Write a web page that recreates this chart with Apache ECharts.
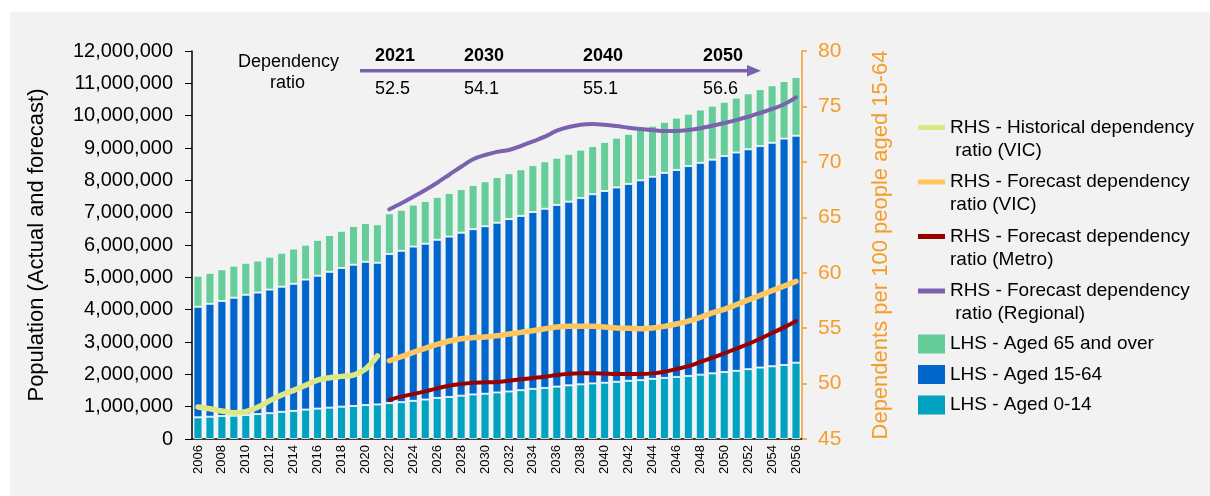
<!DOCTYPE html>
<html>
<head>
<meta charset="utf-8">
<script src="https://cdn.jsdelivr.net/npm/echarts@6/dist/echarts.min.js"></script>
<style>
html,body{margin:0;padding:0;background:#f2f2f2;overflow:hidden;}
#topband{position:absolute;left:0;top:0;width:100%;height:12px;background:#fff;}
#leftband{position:absolute;left:0;top:0;width:10px;height:100%;background:#fff;}
#chart{position:absolute;left:10px;top:12px;width:1200px;height:484px;background:#f2f2f2;}
</style>
</head>
<body>
<div id="topband"></div>
<div id="leftband"></div>
<div id="chart"></div>
<script>
var years = ['2006','2007','2008','2009','2010','2011','2012','2013','2014','2015','2016','2017','2018','2019','2020','2021',
  '2022','2023','2024','2025','2026','2027','2028','2029','2030','2031','2032','2033','2034','2035','2036','2037','2038','2039',
  '2040','2041','2042','2043','2044','2045','2046','2047','2048','2049','2050','2051','2052','2053','2054','2055','2056'];

// population by age group, thousands
var aged0to14 = [670,690,710,720,740,770,800,840,870,910,940,970,1000,1020,1050,1070,
  1110,1140,1180,1220,1270,1300,1340,1380,1400,1440,1470,1510,1550,1580,1620,1660,1690,1720,
  1740,1770,1800,1820,1860,1890,1920,1950,1990,2030,2070,2110,2160,2210,2250,2290,2360];
var aged15to64 = [3420,3490,3560,3650,3720,3760,3820,3870,3930,4020,4110,4200,4290,4370,4430,4380,
  4610,4680,4770,4820,4890,4960,5040,5110,5180,5250,5330,5390,5470,5540,5620,5680,5760,5850,
  5930,6010,6090,6180,6250,6340,6400,6490,6550,6610,6680,6750,6800,6850,6910,7000,7020];
var aged65plus = [960,960,980,990,990,990,1020,1050,1090,1080,1110,1140,1150,1200,1200,1190,
  1260,1270,1300,1320,1330,1350,1350,1370,1390,1410,1420,1440,1450,1470,1460,1480,1500,1490,
  1520,1540,1550,1580,1580,1580,1620,1620,1650,1670,1680,1700,1730,1760,1780,1780,1820];

// dependency ratio, 2006-2021 actual
var histVic = [47.89,47.73,47.53,47.37,47.46,47.86,48.46,48.97,49.39,49.84,50.32,50.53,50.65,50.77,51.31,52.49];
// dependency ratio, 2022-2056 forecast
var fcVic = [52.06,52.43,52.82,53.18,53.54,53.84,54.05,54.15,54.2,54.32,54.47,54.62,54.77,54.95,55.10,55.16,55.16,55.16,
  55.1,55.01,54.98,54.95,55.01,55.16,55.37,55.64,55.98,56.37,56.7,57.11,57.54,57.96,58.38,58.80,59.22];
var fcMetro = [48.52,48.82,49.06,49.30,49.57,49.81,49.96,50.08,50.11,50.14,50.26,50.38,50.50,50.62,50.77,50.89,50.92,50.92,
  50.89,50.86,50.86,50.86,50.92,51.07,51.31,51.58,51.95,52.33,52.73,53.15,53.57,54.05,54.56,55.07,55.64];
var fcRegional = [65.72,66.26,66.86,67.46,68.12,68.84,69.56,70.23,70.62,70.9,71.07,71.43,71.85,72.27,72.81,73.14,73.35,73.41,
  73.35,73.23,73.08,72.96,72.87,72.78,72.78,72.87,73.03,73.26,73.50,73.77,74.07,74.41,74.77,75.19,75.82];

var keyYears = ['2021','2030','2040','2050'];
var keyRatios = ['52.5','54.1','55.1','56.6'];

var names = {
  hist:'RHS - Historical dependency\n ratio (VIC)',
  vic:'RHS - Forecast dependency\nratio (VIC)',
  metro:'RHS - Forecast dependency\nratio (Metro)',
  reg:'RHS - Forecast dependency\n ratio (Regional)',
  a65:'LHS - Aged 65 and over',
  a15:'LHS - Aged 15-64',
  a0:'LHS - Aged 0-14'
};

function thousands(arr){
  return arr.map(function(v){return v*1000;});
}
function nulls(n){
  var a=[];for(var i=0;i<n;i++){a.push(null);}return a;
}
var histFull = histVic.concat(nulls(years.length-histVic.length));
var pad = nulls(years.length-fcVic.length);

var orange = '#F59D2A';
var font = 'Arial, "Liberation Sans", sans-serif';

var myChart = echarts.init(document.getElementById('chart'));

var barStyle = function(c){
  return {color:c,borderColor:'rgba(255,255,255,0.75)',borderWidth:1};
};
var lineSeries = function(name,data,c,w){
  return {
    name:name,type:'line',yAxisIndex:1,data:data,smooth:0.35,symbol:'none',z:5,
    lineStyle:{color:c,width:w,cap:'round',join:'round'},
    itemStyle:{color:c}
  };
};

// year labels + ratios above the arrow
var annot = [];
var annotX = [365,454,573,693];
keyYears.forEach(function(y,i){
  annot.push({type:'text',left:annotX[i],top:35,style:{text:y,font:'bold 18px '+font,fill:'#000'}});
  annot.push({type:'text',left:annotX[i],top:68,style:{text:keyRatios[i],font:'18px '+font,fill:'#000'}});
});

var lineIcon = 'path://M0,0 M0,9 L27,9 L27,14 L0,14 Z M27,46';

option = {
  textStyle:{fontFamily:font},
  animation:false,
  grid:{left:182,top:39,width:610,height:388,containLabel:false},
  legend:[
    {
      orient:'vertical',left:903,top:99,itemGap:8.5,
      itemWidth:27,itemHeight:46,symbolKeepAspect:false,
      icon:lineIcon,
      textStyle:{fontSize:19,color:'#000',lineHeight:23,fontFamily:font},
      itemStyle:{borderWidth:0},
      data:[names.hist,names.vic,names.metro,names.reg]
    },
    {
      orient:'vertical',left:903,top:315.5,itemGap:7.5,
      itemWidth:27,itemHeight:19,icon:'rect',
      textStyle:{fontSize:19,color:'#000',lineHeight:23,fontFamily:font},
      itemStyle:{borderWidth:0},
      data:[names.a65,names.a15,names.a0]
    }
  ],
  xAxis:{
    type:'category',data:years,boundaryGap:true,
    axisLine:{lineStyle:{color:'#000',width:1.5}},
    axisTick:{show:false},
    axisLabel:{rotate:90,interval:1,fontSize:13,color:'#000',margin:6}
  },
  yAxis:[
    {
      type:'value',min:0,max:12000000,interval:1000000,
      name:'Population (Actual and forecast)',nameLocation:'middle',nameGap:144,
      nameTextStyle:{fontSize:22,color:'#000'},
      axisLine:{show:true,lineStyle:{color:'#000',width:1.5}},
      axisTick:{show:true,length:7,lineStyle:{color:'#000'}},
      axisLabel:{fontSize:20,color:'#000',margin:19,formatter:function(v){return v.toLocaleString('en-US');}},
      splitLine:{show:false}
    },
    {
      type:'value',min:45,max:80,interval:5,position:'right',
      name:'Dependents per 100 people aged 15-64',nameLocation:'middle',nameGap:68,
      nameTextStyle:{fontSize:22,color:orange},
      axisLine:{show:true,lineStyle:{color:orange,width:1.5}},
      axisTick:{show:true,length:5,lineStyle:{color:orange,width:1.5}},
      axisLabel:{fontSize:21,color:orange,margin:16},
      splitLine:{show:false}
    }
  ],
  series:[
    {name:names.a0,type:'bar',stack:'pop',barWidth:9,data:thousands(aged0to14),itemStyle:barStyle('#00A2BF')},
    {name:names.a15,type:'bar',stack:'pop',barWidth:9,data:thousands(aged15to64),itemStyle:barStyle('#0066CC')},
    {name:names.a65,type:'bar',stack:'pop',barWidth:9,data:thousands(aged65plus),itemStyle:barStyle('#66CC99')},
    lineSeries(names.hist,histFull,'#DDE784',5.5),
    lineSeries(names.vic,pad.concat(fcVic),'#FFC65F',5.5),
    lineSeries(names.metro,pad.concat(fcMetro),'#990000',4),
    lineSeries(names.reg,pad.concat(fcRegional),'#7A62AE',4)
  ],
  graphic:[
    {type:'text',left:228,top:41,style:{text:'Dependency',font:'18px '+font,fill:'#000'}},
    {type:'text',left:260,top:62,style:{text:'ratio',font:'18px '+font,fill:'#000'}},
    {type:'line',shape:{x1:350,y1:58.7,x2:740,y2:58.7},style:{stroke:'#7A62AE',lineWidth:3.5}},
    {type:'polygon',shape:{points:[[737,53],[751,58.7],[737,64.4]]},style:{fill:'#7A62AE'}}
  ].concat(annot)
};

myChart.setOption(option);
</script>
</body>
</html>
